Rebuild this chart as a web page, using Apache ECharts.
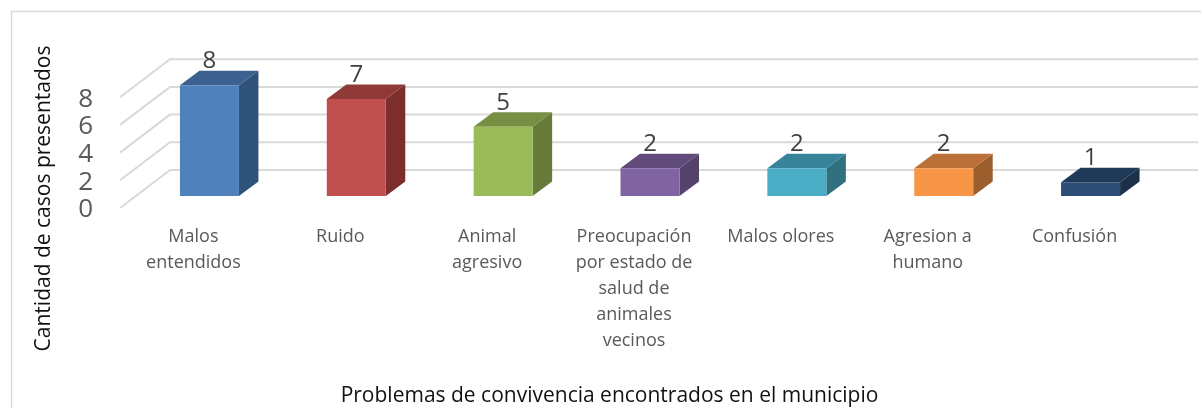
<!DOCTYPE html>
<html><head><meta charset="utf-8">
<style>html,body{margin:0;padding:0;background:#fff}#c{width:1201px;height:408px}</style>
<script src="https://cdn.jsdelivr.net/npm/echarts@6/dist/echarts.min.js"></script>
</head><body><div id="c"></div>
<script>
const categories = ["Malos\nentendidos","Ruido","Animal\nagresivo","Preocupación\npor estado de\nsalud de\nanimales\nvecinos","Malos olores","Agresion a\nhumano","Confusión"];
const values = [8,7,5,2,2,2,1];
const yTicks = [0,2,4,6,8];
const frontColors = ["#4F81BD","#C0504D","#9BBB59","#8064A2","#4BACC6","#F79646","#2C4D75"];
const sideColors  = ["#2F5279","#7C2E2C","#677C3A","#54426B","#31717F","#9B5E2C","#1C3049"];
const topColors   = ["#3C618F","#8F3A37","#778F43","#604B7A","#37839A","#BA7036","#1F3A58"];
const xTitle = "Problemas de convivencia encontrados en el municipio";
const yTitle = "Cantidad de casos presentados";

const FONT = '"Open Sans","Noto Sans",sans-serif';
const WALL = {dx:50, dy:-38};
const BAR_OFF = {dx:16, dy:-12};
const BAR_DEPTH = {dx:19.5, dy:-14.5};
const BAR_W = 59;
const hidden = {axisLine:{show:false}, axisTick:{show:false}, splitLine:{show:false}};

const chart = echarts.init(document.getElementById('c'), null, {renderer:'canvas'});
chart.setOption({
  animation:false,
  backgroundColor:'#fff',
  grid:[
    {left:120, top:97.2, width:1028, height:110.8, containLabel:false},
    {left:120, top:99.2, width:1028, height:110.8, containLabel:false}
  ],
  graphic:[
    {type:'rect', z:-1, shape:{x:11.5,y:11.5,width:1300,height:500}, style:{fill:'#fff',stroke:'#D9D9D9',lineWidth:1.5}},
    {type:'text', x:609.5, y:396, style:{text:xTitle, font:'21px '+FONT, fill:'#111', align:'center', verticalAlign:'middle'}},
    {type:'text', x:44, y:198.5, rotation:Math.PI/2, style:{text:yTitle, font:'21px '+FONT, fill:'#111', align:'center', verticalAlign:'middle'}}
  ],
  xAxis:[
    {type:'category', gridIndex:0, data:categories, ...hidden,
     axisLabel:{color:'#595959', fontFamily:FONT, fontSize:18, lineHeight:26, margin:16, interval:0, verticalAlign:'top'}},
    {type:'category', gridIndex:1, data:categories, show:false}
  ],
  yAxis:[
    {type:'value', gridIndex:0, min:0, max:8, interval:2, show:false},
    {type:'value', gridIndex:1, min:0, max:8, interval:2, ...hidden,
     axisLabel:{color:'#595959', fontFamily:FONT, fontSize:26, margin:27, showMinLabel:true, showMaxLabel:true}}
  ],
  series:[
    {type:'custom', z:1, silent:true, xAxisIndex:0, yAxisIndex:0, data:yTicks.map(v=>[0,v]),
     renderItem(params,api){
       const v=api.value(1), p=api.coord([0,v]), cs=params.coordSys;
       const bx=cs.x+WALL.dx, by=p[1]+WALL.dy;
       return {type:'polyline', shape:{points:[[cs.x,p[1]],[bx,by],[bx+cs.width,by]]},
               style:{stroke:'#D9D9D9', lineWidth:2, fill:null}};
     }},
    {type:'custom', z:2, silent:true, xAxisIndex:0, yAxisIndex:0, data:values.map((v,i)=>[i,v]), encode:{x:0,y:1},
     renderItem(params,api){
       const i=api.value(0), v=api.value(1);
       const base=api.coord([i,0]), top=api.coord([i,v]);
       const x0=base[0]+BAR_OFF.dx-BAR_W/2, x1=x0+BAR_W;
       const yb=base[1]+BAR_OFF.dy, yt=top[1]+BAR_OFF.dy;
       const d=BAR_DEPTH;
       return {type:'group', children:[
         {type:'polygon', shape:{points:[[x1,yb],[x1+d.dx,yb+d.dy],[x1+d.dx,yt+d.dy],[x1,yt]]}, style:{fill:sideColors[i]}},
         {type:'polygon', shape:{points:[[x0,yt],[x1,yt],[x1+d.dx,yt+d.dy],[x0+d.dx,yt+d.dy]]}, style:{fill:topColors[i]}},
         {type:'rect', shape:{x:x0,y:yt,width:BAR_W,height:yb-yt}, style:{fill:frontColors[i]}},
         {type:'text', x:(x0+x1)/2, y:yt-24, style:{text:String(v), font:'24px '+FONT, fill:'#404040', align:'center', verticalAlign:'middle'}}
       ]};
     }}
  ]
});
</script></body></html>
